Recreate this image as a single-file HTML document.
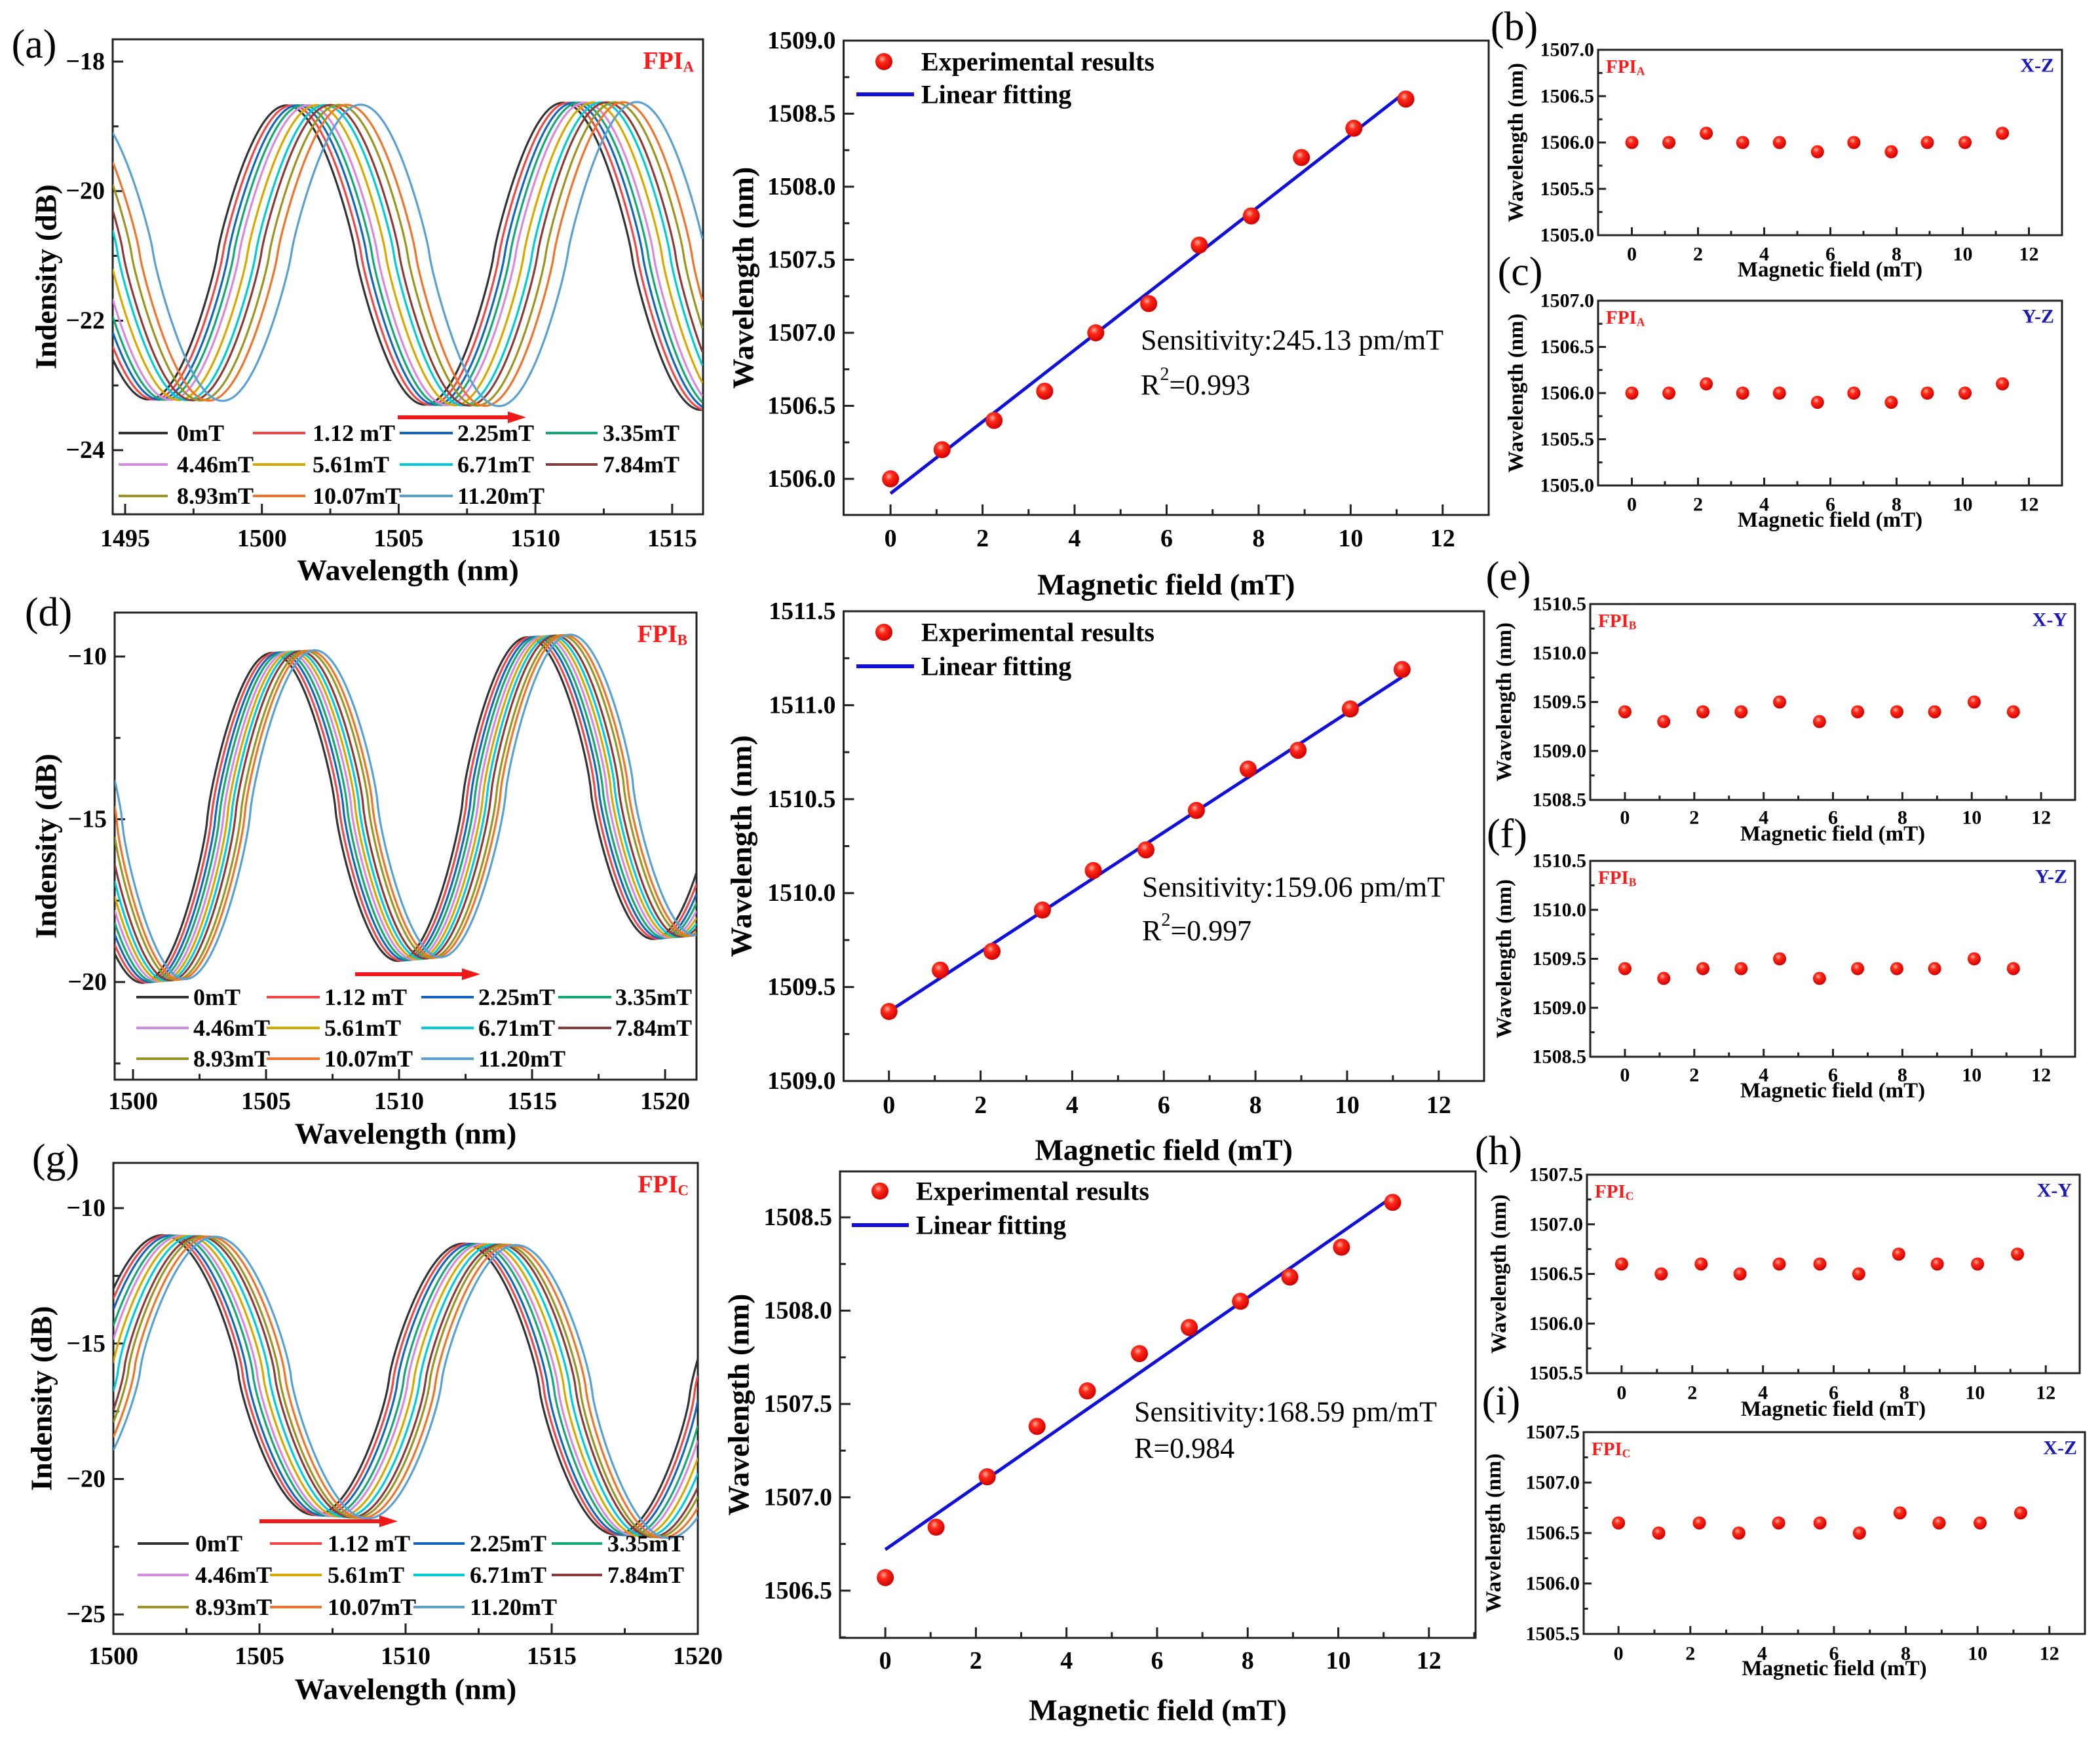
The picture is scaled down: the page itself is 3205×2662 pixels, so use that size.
<!DOCTYPE html>
<html><head><meta charset="utf-8"><style>
html,body{margin:0;padding:0;background:#fff;}
svg{display:block;font-family:"Liberation Serif",serif;}
</style></head><body>
<svg id="fig" width="3205" height="2662" viewBox="0 0 3205 2662" xmlns="http://www.w3.org/2000/svg">
<defs>
<radialGradient id="ball" cx="0.4" cy="0.35" r="0.65">
<stop offset="0" stop-color="#ffb0a0"/><stop offset="0.35" stop-color="#ff2a1a"/><stop offset="1" stop-color="#d00000"/>
</radialGradient>
</defs>
</svg>
<script>
// ---------- data ----------
const fields = [0, 1.12, 2.25, 3.35, 4.46, 5.61, 6.71, 7.84, 8.93, 10.07, 11.20];
const legendLabels = ["0mT","1.12 mT","2.25mT","3.35mT","4.46mT","5.61mT","6.71mT","7.84mT","8.93mT","10.07mT","11.20mT"];
const seriesColors = ["#333333","#f04848","#1565c0","#14a878","#d48ae0","#d8a800","#00ccd8","#8a3c3c","#9a9420","#f0742a","#5aa0d0"];
// spectrum peak wavelength per field (nm)
const peaksA = [1500.9,1501.1,1501.3,1501.5,1501.7,1502.0,1502.3,1502.5,1502.8,1503.1,1503.6];
const peaksD = [1505.2,1505.35,1505.5,1505.65,1505.8,1505.95,1506.1,1506.25,1506.45,1506.6,1506.8];
const peaksG = [1501.7,1501.85,1502.0,1502.2,1502.35,1502.55,1502.75,1502.95,1503.1,1503.3,1503.5];
// wavelength shift experiments
const shiftA = [1506.0,1506.2,1506.4,1506.6,1507.0,1507.2,1507.6,1507.8,1508.2,1508.4,1508.6];
const shiftB = [1509.37,1509.59,1509.69,1509.91,1510.12,1510.23,1510.44,1510.66,1510.76,1510.98,1511.19];
const shiftC = [1506.57,1506.84,1507.11,1507.38,1507.57,1507.77,1507.91,1508.05,1508.18,1508.34,1508.58];
const fitA = [1505.9, 1508.65];
const fitB = [1509.37, 1511.15];
const fitC = [1506.72, 1508.61];
const xzA = [1506.0,1506.0,1506.1,1506.0,1506.0,1505.9,1506.0,1505.9,1506.0,1506.0,1506.1];
const yzA = [1506.0,1506.0,1506.1,1506.0,1506.0,1505.9,1506.0,1505.9,1506.0,1506.0,1506.1];
const xyB = [1509.4,1509.3,1509.4,1509.4,1509.5,1509.3,1509.4,1509.4,1509.4,1509.5,1509.4];
const yzB = [1509.4,1509.3,1509.4,1509.4,1509.5,1509.3,1509.4,1509.4,1509.4,1509.5,1509.4];
const xyC = [1506.6,1506.5,1506.6,1506.5,1506.6,1506.6,1506.5,1506.7,1506.6,1506.6,1506.7];
const xzC = [1506.6,1506.5,1506.6,1506.5,1506.6,1506.6,1506.5,1506.7,1506.6,1506.6,1506.7];
const fieldTicks = [0,2,4,6,8,10,12];

const NS = "http://www.w3.org/2000/svg";
const svg = document.getElementById("fig");
function el(tag, attrs, parent, text){
  const e = document.createElementNS(NS, tag);
  for (const k in attrs) e.setAttribute(k, attrs[k]);
  if (text !== undefined) e.textContent = text;
  (parent || svg).appendChild(e);
  return e;
}
function scale(d0, d1, r0, r1){ return v => r0 + (v - d0) * (r1 - r0) / (d1 - d0); }

function axes(g, P, o){
  const sx = scale(P.x0, P.x1, P.L, P.R), sy = scale(P.y0, P.y1, P.B, P.T);
  const fr = el("rect", {x:P.L, y:P.T, width:P.R-P.L, height:P.B-P.T, fill:"none", stroke:"#222", "stroke-width":o.sw}, g);
  
  
  const xg = el("g", {}, g);
  
  
  for (let v = o.xMinorStart; v <= P.x1 + 1e-9; v += o.xMinor) {
    const isMaj = o.xTicks.some(t => Math.abs(t - v) < 1e-6);
    const x = sx(v);
    el("line", {x1:x, x2:x, y1:P.B, y2:P.B-(isMaj?o.tl:o.tl*0.55), stroke:"#222", "stroke-width":o.sw}, xg);
  }
  o.xTicks.forEach(t => {
    const tx = el("text", {x:sx(t), y:o.xLabY, "font-size":o.fs, "font-weight":"bold", "text-anchor":"middle", "dominant-baseline":"central"}, xg, o.xFmt(t));
    
    
  });
  const yg = el("g", {}, g);
  
  
  for (let v = o.yMinorStart; v <= P.y1 + 1e-9; v += o.yMinor) {
    const isMaj = o.yTicks.some(t => Math.abs(t - v) < 1e-6);
    const y = sy(v);
    el("line", {x1:P.L, x2:P.L+(isMaj?o.tl:o.tl*0.55), y1:y, y2:y, stroke:"#222", "stroke-width":o.sw}, yg);
  }
  o.yTicks.forEach(t => {
    const ty = el("text", {x:P.L-o.yLabGap, y:sy(t), "font-size":o.fs, "font-weight":"bold", "text-anchor":"end", "dominant-baseline":"central"}, yg, o.yFmt(t));
    
    
  });
  const xt = el("text", {x:(P.L+P.R)/2, y:o.xTitleY, "font-size":o.tfs, "font-weight":"bold", "text-anchor":"middle", "dominant-baseline":"central"}, g, o.xTitle);
  
  
  const cy = (P.T+P.B)/2;
  const yt = el("text", {x:o.yTitleX, y:cy, "font-size":o.tfs, "font-weight":"bold", "text-anchor":"middle", "dominant-baseline":"central", transform:`rotate(-90 ${o.yTitleX} ${cy})`}, g, o.yTitle);
  
  
  return {sx, sy};
}
function panelLetter(x, y, s){
  const t = el("text", {x, y, "font-size":62, "text-anchor":"middle", "dominant-baseline":"central"}, svg, s);
  
  
}
function fpiLabel(g, x, y, sub, fs, anchor){
  const t = el("text", {x, y, "font-size":fs, "font-weight":"bold", fill:"#ff1a1a", "text-anchor":anchor, "dominant-baseline":"central"}, g);
  
  
  el("tspan", {}, t, "FPI");
  el("tspan", {"font-size":fs*0.6, dy:fs*0.22}, t, sub);
}

// ---------- spectrum panels ----------
function spectrum(P, peaks, period, pk, tr, expo, o){
  const g = el("g", {}, svg);
  
  
  const {sx, sy} = axes(g, P, o);
  const clipId = o.name + "-clip";
  const cp = el("clipPath", {id:clipId}, g);
  el("rect", {x:P.L, y:P.T, width:P.R-P.L, height:P.B-P.T}, cp);
  const cg = el("g", {"clip-path":`url(#${clipId})`}, g);
  peaks.forEach((p0, k) => {
    let d = "";
    for (let x = P.L; x <= P.R; x += 2) {
      const lam = P.x0 + (x - P.L) * (P.x1 - P.x0) / (P.R - P.L);
      const c = Math.cos(2 * Math.PI * (lam - p0) / period);
      const s = Math.sign(c) * Math.pow(Math.abs(c), expo);
      const hi = pk[0] + pk[1] * (lam - 1500), lo = tr[0] + tr[1] * (lam - 1500);
      const v = (hi + lo) / 2 + (hi - lo) / 2 * s;
      d += (d ? "L" : "M") + x.toFixed(1) + "," + sy(v).toFixed(1);
    }
    const pth = el("path", {d, fill:"none", stroke:seriesColors[k], "stroke-width":3.2}, cg);
    
    
  });
  const ar = el("g", {}, g);
  
  
  el("line", {x1:o.arrow[0], x2:o.arrow[1]-22, y1:o.arrow[2], y2:o.arrow[2], stroke:"#f01818", "stroke-width":6}, ar);
  el("polygon", {points:`${o.arrow[1]},${o.arrow[2]} ${o.arrow[1]-28},${o.arrow[2]-9} ${o.arrow[1]-28},${o.arrow[2]+9}`, fill:"#f01818"}, ar);
  const lg = el("g", {}, g);
  
  
  legendLabels.forEach((lab, k) => {
    const r = Math.floor(k / 4), c = k % 4;
    const col = o.legCols[c], y = o.legRows[r];
    const ent = el("g", {}, lg);
    
    
    el("line", {x1:col[0], x2:col[1], y1:y, y2:y, stroke:seriesColors[k], "stroke-width":4}, ent);
    el("text", {x:col[2], y:y, "font-size":36, "font-weight":"bold", "dominant-baseline":"central"}, ent, lab);
  });
  fpiLabel(g, P.R - 14, P.T + 33, o.sub, 38, "end");
}

const fmtNeg = v => (v < 0 ? "\u2212" + Math.abs(v) : String(v));
const common = {sw:3, tl:16, fs:38, tfs:46, yLabGap:12};

spectrum({L:172,R:1073,T:60,B:785,x0:1494.545,x1:1516.13,y0:-24.99,y1:-17.656}, peaksA, 10.1, [-18.68,0.004], [-23.25,-0.008], 0.85,
  Object.assign({}, common, {name:"spectrum-panel-a", sub:"A", xTicks:[1495,1500,1505,1510,1515], xMinor:2.5, xMinorStart:1495, xFmt:String,
  yTicks:[-24,-22,-20,-18], yMinor:1, yMinorStart:-24, yFmt:fmtNeg, xLabY:822, xTitleY:870, yTitleX:70,
  xTitle:"Wavelength (nm)", yTitle:"Indensity (dB)", arrow:[607,803,637],
  legRows:[661,709,757], legCols:[[181,256,270],[386,466,477],[610,691,698],[833,912,920]]}));

spectrum({L:175,R:1063,T:935,B:1648,x0:1499.31,x1:1521.18,y0:-23.0,y1:-8.65}, peaksD, 9.6, [-10.15,0.05], [-20.05,0.07], 0.78,
  Object.assign({}, common, {name:"spectrum-panel-d", sub:"B", xTicks:[1500,1505,1510,1515,1520], xMinor:2.5, xMinorStart:1500, xFmt:String,
  yTicks:[-20,-15,-10], yMinor:2.5, yMinorStart:-22.5, yFmt:fmtNeg, xLabY:1681, xTitleY:1730, yTitleX:70,
  xTitle:"Wavelength (nm)", yTitle:"Indensity (dB)", arrow:[542,733,1487],
  legRows:[1522,1569,1616], legCols:[[208,288,295],[407,488,495],[643,723,730],[852,933,939]]}));

spectrum({L:173,R:1065,T:1775,B:2494,x0:1500,x1:1520,y0:-25.72,y1:-8.33}, peaksG, 10.3, [-10.95,-0.03], [-20.85,-0.07], 0.78,
  Object.assign({}, common, {name:"spectrum-panel-g", sub:"C", xTicks:[1500,1505,1510,1515,1520], xMinor:2.5, xMinorStart:1500, xFmt:String,
  yTicks:[-25,-20,-15,-10], yMinor:2.5, yMinorStart:-25, yFmt:fmtNeg, xLabY:2528, xTitleY:2578, yTitleX:63,
  xTitle:"Wavelength (nm)", yTitle:"Indensity (dB)", arrow:[396,607,2322],
  legRows:[2356,2404,2453], legCols:[[210,288,298],[412,491,500],[631,709,717],[842,919,927]]}));

// ---------- linear fit panels ----------
function fitPanel(P, vals, fit, o){
  const g = el("g", {}, svg);
  
  
  const {sx, sy} = axes(g, P, Object.assign({}, common, {xTicks:fieldTicks, xMinor:1, xMinorStart:0, xFmt:String,
    yTicks:o.yTicks, yMinor:0.25, yMinorStart:o.yTicks[0]-0.25*Math.floor((o.yTicks[0]-P.y0)/0.25), yFmt:v=>v.toFixed(1),
    xLabY:o.xLabY, xTitleY:o.xTitleY, yTitleX:o.yTitleX, xTitle:"Magnetic field (mT)", yTitle:"Wavelength (nm)"}));
  const ln = el("line", {x1:sx(fields[0]), x2:sx(fields[fields.length-1]), y1:sy(fit[0]), y2:sy(fit[1]), stroke:"#1010d8", "stroke-width":5}, g);
  
  
  vals.forEach((v, i) => {
    const c = el("circle", {cx:sx(fields[i]), cy:sy(v), r:13, fill:"url(#ball)"}, g);
    
    
  });
  const lg = el("g", {}, g);
  
  
  el("circle", {cx:o.leg[0], cy:o.leg[2], r:13, fill:"url(#ball)"}, lg);
  el("text", {x:o.leg[1], y:o.leg[2], "font-size":40, "font-weight":"bold", "dominant-baseline":"central"}, lg, "Experimental results");
  el("line", {x1:o.leg[3], x2:o.leg[4], y1:o.leg[5], y2:o.leg[5], stroke:"#1010d8", "stroke-width":6}, lg);
  el("text", {x:o.leg[1], y:o.leg[5], "font-size":40, "font-weight":"bold", "dominant-baseline":"central"}, lg, "Linear fitting");
  const s1 = el("text", {x:o.ann[0], y:o.ann[1], "font-size":44, "dominant-baseline":"central"}, g, o.sens);
  
  
  const s2 = el("text", {x:o.ann[0], y:o.ann[2], "font-size":44, "dominant-baseline":"central"}, g);
  
  
  if (o.sq) { el("tspan", {}, s2, "R"); el("tspan", {"font-size":28, dy:-16}, s2, "2"); el("tspan", {dy:16}, s2, o.r); }
  else el("tspan", {}, s2, "R" + o.r);
}
fitPanel({L:1287.5,R:2272,T:62,B:786,x0:-1.02,x1:13.0,y0:1505.753,y1:1509.0}, shiftA, fitA,
  {name:"fit-panel-a", yTicks:[1506.0,1506.5,1507.0,1507.5,1508.0,1508.5,1509.0], xLabY:822, xTitleY:892, yTitleX:1134,
   leg:[1349,1406,94,1307,1395,144], ann:[1741,519,587], sens:"Sensitivity:245.13 pm/mT", sq:true, r:"=0.993"});
fitPanel({L:1287.5,R:2265,T:933,B:1650,x0:-0.99,x1:12.99,y0:1509.0,y1:1511.5}, shiftB, fitB,
  {name:"fit-panel-d", yTicks:[1509.0,1509.5,1510.0,1510.5,1511.0,1511.5], xLabY:1687, xTitleY:1755, yTitleX:1131,
   leg:[1349,1406,965,1307,1395,1017], ann:[1743,1354,1420], sens:"Sensitivity:159.06 pm/mT", sq:true, r:"=0.997"});
fitPanel({L:1282,R:2252,T:1788,B:2500,x0:-1.0,x1:13.03,y0:1506.247,y1:1508.746}, shiftC, fitC,
  {name:"fit-panel-g", yTicks:[1506.5,1507.0,1507.5,1508.0,1508.5], xLabY:2535, xTitleY:2610, yTitleX:1127,
   leg:[1343,1398,1818,1300,1387,1870], ann:[1731,2155,2210], sens:"Sensitivity:168.59 pm/mT", sq:false, r:"=0.984"});

// ---------- small stability panels ----------
function smallPanel(P, vals, o){
  const g = el("g", {}, svg);
  
  
  const yT = []; for (let v = P.y0; v <= P.y1 + 1e-9; v += 0.5) yT.push(+v.toFixed(1));
  const {sx, sy} = axes(g, P, {sw:3, tl:12, fs:30, tfs:33, yLabGap:6, xTicks:fieldTicks, xMinor:1, xMinorStart:0, xFmt:String,
    yTicks:yT, yMinor:0.25, yMinorStart:P.y0, yFmt:v=>v.toFixed(1), xLabY:o.xLabY, xTitleY:o.xTitleY, yTitleX:o.yTitleX,
    xTitle:"Magnetic field (mT)", yTitle:"Wavelength (nm)"});
  vals.forEach((v, i) => {
    const c = el("circle", {cx:sx(fields[i]), cy:sy(v), r:10, fill:"url(#ball)"}, g);
    
    
  });
  fpiLabel(g, P.L + 12, P.T + 26, o.sub, 29, "start");
  const pl = el("text", {x:P.R - 12, y:P.T + 24, "font-size":30, "font-weight":"bold", fill:"#1a1ab8", "text-anchor":"end", "dominant-baseline":"central"}, g, o.plane);
  
  
}
smallPanel({L:2439,R:3147,T:76,B:359,x0:-1.02,x1:13.0,y0:1505.0,y1:1507.0}, xzA, {name:"stability-panel-b", sub:"A", plane:"X-Z", xLabY:388, xTitleY:412, yTitleX:2314});
smallPanel({L:2439,R:3147,T:459,B:741,x0:-1.02,x1:13.0,y0:1505.0,y1:1507.0}, yzA, {name:"stability-panel-c", sub:"A", plane:"Y-Z", xLabY:770, xTitleY:794, yTitleX:2314});
smallPanel({L:2427,R:3167,T:922,B:1221,x0:-1.0,x1:12.98,y0:1508.5,y1:1510.5}, xyB, {name:"stability-panel-e", sub:"B", plane:"X-Y", xLabY:1248, xTitleY:1273, yTitleX:2296});
smallPanel({L:2427,R:3167,T:1314,B:1613,x0:-1.0,x1:12.98,y0:1508.5,y1:1510.5}, yzB, {name:"stability-panel-f", sub:"B", plane:"Y-Z", xLabY:1641, xTitleY:1665, yTitleX:2296});
smallPanel({L:2422,R:3174,T:1793,B:2096,x0:-0.98,x1:12.96,y0:1505.5,y1:1507.5}, xyC, {name:"stability-panel-h", sub:"C", plane:"X-Y", xLabY:2126, xTitleY:2151, yTitleX:2288});
smallPanel({L:2417,R:3182,T:2186,B:2494,x0:-0.97,x1:12.99,y0:1505.5,y1:1507.5}, xzC, {name:"stability-panel-i", sub:"C", plane:"X-Z", xLabY:2524, xTitleY:2547, yTitleX:2280});

panelLetter(52, 68, "(a)");
panelLetter(2311, 41, "(b)");
panelLetter(2320, 415, "(c)");
panelLetter(74, 935, "(d)");
panelLetter(2302, 880, "(e)");
panelLetter(2300, 1273, "(f)");
panelLetter(85, 1769, "(g)");
panelLetter(2287, 1757, "(h)");
panelLetter(2291, 2139, "(i)");
</script>
</body></html>
